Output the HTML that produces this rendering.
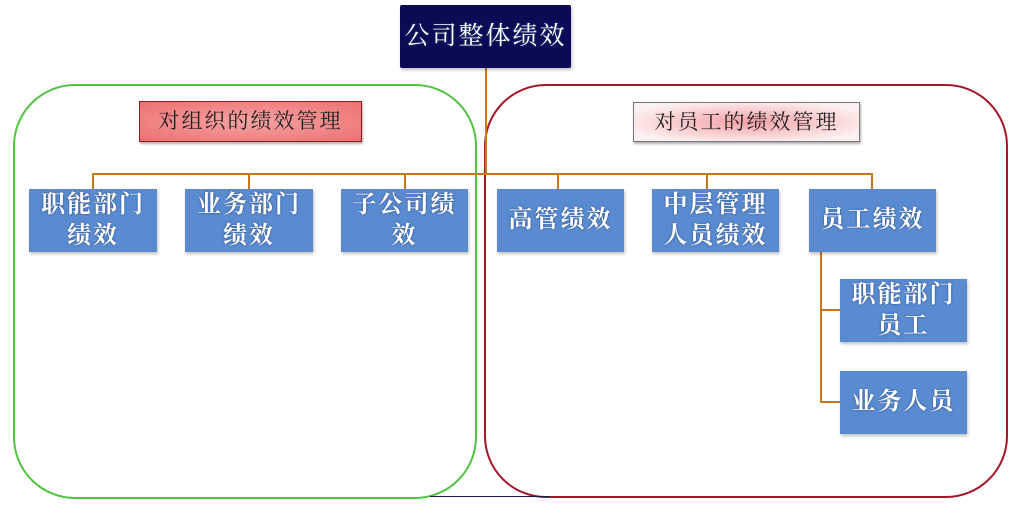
<!DOCTYPE html>
<html><head><meta charset="utf-8"><style>
html,body{margin:0;padding:0;background:#fff;width:1024px;height:525px;overflow:hidden;position:relative;font-family:"Liberation Serif","Noto Serif CJK SC",serif}
.a{position:absolute;box-sizing:border-box}
.b{background:#5a8bd0;color:#fff;font-size:24px;line-height:31px;text-align:center;display:flex;align-items:center;justify-content:center;text-shadow:0 0 2px #2a4a80;box-shadow:1px 2px 3px rgba(0,0,0,.25);letter-spacing:2px;font-weight:bold}
.l{position:absolute;background:#c7781e}
</style></head><body>
<div class="a" style="left:13px;top:84px;width:464px;height:415px;border:2px solid #52c442;border-radius:62px"></div>
<div class="a" style="left:484px;top:84px;width:524px;height:414px;border:2px solid #a3182a;border-radius:62px"></div>
<div class="a" style="left:430px;top:496px;width:120px;height:1px;background:#1a1a50"></div>
<div class="l" style="left:485px;top:68px;width:2px;height:107px"></div>
<div class="l" style="left:92px;top:173px;width:781px;height:2px"></div>
<div class="l" style="left:92px;top:173px;width:2px;height:16px"></div>
<div class="l" style="left:248px;top:173px;width:2px;height:16px"></div>
<div class="l" style="left:404px;top:173px;width:2px;height:16px"></div>
<div class="l" style="left:557px;top:173px;width:2px;height:16px"></div>
<div class="l" style="left:706px;top:173px;width:2px;height:16px"></div>
<div class="l" style="left:871px;top:173px;width:2px;height:16px"></div>
<div class="l" style="left:820px;top:252px;width:2px;height:151px"></div>
<div class="l" style="left:820px;top:309px;width:20px;height:2px"></div>
<div class="l" style="left:820px;top:401px;width:20px;height:2px"></div>
<div class="a b" style="left:400px;top:5px;width:171px;height:63px;background:#0b0b55;font-size:25px;font-weight:normal;border-radius:2px">公司整体绩效</div>
<div class="a" style="left:139px;top:101px;width:223px;height:41px;background:radial-gradient(ellipse at center,#f7a3a3,#ec7070);border:1px solid #8a2020;box-shadow:1px 2px 2px rgba(0,0,0,.3);font-size:21px;line-height:39px;text-align:center;color:#222;letter-spacing:2px">对组织的绩效管理</div>
<div class="a" style="left:633px;top:102px;width:227px;height:40px;background:radial-gradient(ellipse at center,#f4a0a5,#fdf0f0 80%);border:1px solid #777;box-shadow:1px 2px 2px rgba(0,0,0,.3);font-size:21px;line-height:38px;text-align:center;color:#222;letter-spacing:2px">对员工的绩效管理</div>
<div class="a b" style="left:29px;top:189px;width:128px;height:63px">职能部门<br>绩效</div>
<div class="a b" style="left:185px;top:189px;width:128px;height:63px">业务部门<br>绩效</div>
<div class="a b" style="left:341px;top:189px;width:127px;height:63px">子公司绩<br>效</div>
<div class="a b" style="left:497px;top:189px;width:127px;height:63px">高管绩效</div>
<div class="a b" style="left:652px;top:189px;width:127px;height:63px">中层管理<br>人员绩效</div>
<div class="a b" style="left:809px;top:189px;width:127px;height:63px">员工绩效</div>
<div class="a b" style="left:840px;top:279px;width:127px;height:63px">职能部门<br>员工</div>
<div class="a b" style="left:840px;top:371px;width:127px;height:63px">业务人员</div>
</body></html>
